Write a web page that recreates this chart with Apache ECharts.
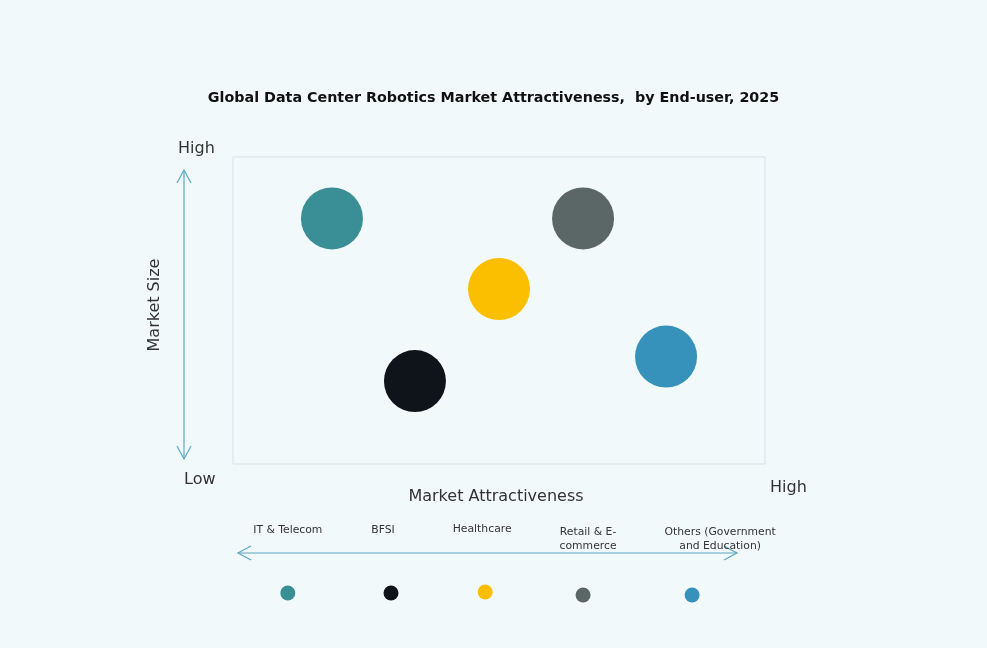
<!DOCTYPE html>
<html>
<head>
<meta charset="utf-8">
<script src="https://cdn.jsdelivr.net/npm/echarts@6/dist/echarts.min.js"></script>
<style>
html,body{margin:0;padding:0;background:#f2f9fa;}
#main{width:987px;height:648px;}
</style>
</head>
<body>
<div id="main"></div>
<script>
// ---- data ----
const categories = ['IT & Telecom', 'BFSI', 'Healthcare', 'Retail & E-\ncommerce', 'Others (Government\nand Education)'];
const attractiveness = [18.6, 34.2, 50.0, 65.8, 81.4];   // x (0-100)
const marketSize = [80, 27, 57, 80, 35];                  // y (0-100)
const colors = ['#3a8e95', '#0f141b', '#fbbf00', '#5b6767', '#3692ba'];
const legendX = [10.3, 29.7, 47.4, 65.8, 86.3];
const legendY = [0.5, 0.5, 0.55, 0.4, 0.4];
const legendLabelShift = [0, -8, -3, 5, 28];

const chart = echarts.init(document.getElementById('main'));
const FONT = 'DejaVu Sans';
const arrowColor = '#5aa8c2';

const bubbleData = categories.map((c, i) => ({
  name: c, value: [attractiveness[i], marketSize[i]],
  itemStyle: { color: colors[i] }
}));
const legendData = categories.map((c, i) => ({
  name: c, value: [legendX[i], legendY[i]],
  itemStyle: { color: colors[i] },
  label: { offset: [legendLabelShift[i], 0] }
}));

chart.setOption({
  backgroundColor: '#f2f9fa',
  animation: false,
  title: {
    text: 'Global Data Center Robotics Market Attractiveness,  by End-user, 2025',
    left: 'center', top: 86,
    textStyle: { fontFamily: FONT, fontSize: 14.3, fontWeight: 'bold', color: '#111' }
  },
  grid: [
    { left: 233, top: 157, width: 532, height: 307, show: true, borderColor: '#d3e3e6', borderWidth: 1, backgroundColor: 'transparent' },
    { left: 233, top: 583, width: 532, height: 20 }
  ],
  xAxis: [
    { gridIndex: 0, type: 'value', min: 0, max: 100, show: false },
    { gridIndex: 1, type: 'value', min: 0, max: 100, show: false }
  ],
  yAxis: [
    { gridIndex: 0, type: 'value', min: 0, max: 100, show: false },
    { gridIndex: 1, type: 'value', min: 0, max: 1, show: false }
  ],
  graphic: [
    // vertical arrow
    { type: 'polyline', shape: { points: [[184, 171], [184, 458]] }, style: { stroke: arrowColor, lineWidth: 1.2, fill: null } },
    { type: 'polyline', shape: { points: [[177, 183], [184, 170], [191, 183]] }, style: { stroke: arrowColor, lineWidth: 1.2, fill: null } },
    { type: 'polyline', shape: { points: [[177, 446], [184, 459], [191, 446]] }, style: { stroke: arrowColor, lineWidth: 1.2, fill: null } },
    // horizontal arrow
    { type: 'polyline', shape: { points: [[238, 553], [737, 553]] }, style: { stroke: arrowColor, lineWidth: 1.2, fill: null } },
    { type: 'polyline', shape: { points: [[251, 546], [238, 553], [251, 560]] }, style: { stroke: arrowColor, lineWidth: 1.2, fill: null } },
    { type: 'polyline', shape: { points: [[724, 546], [737, 553], [724, 560]] }, style: { stroke: arrowColor, lineWidth: 1.2, fill: null } },
    // axis texts
    { type: 'text', left: 178, top: 141, style: { text: 'High', font: '16px ' + FONT, fill: '#333' } },
    { type: 'text', left: 184, top: 472, style: { text: 'Low', font: '16px ' + FONT, fill: '#333' } },
    { type: 'text', left: 770, top: 480, style: { text: 'High', font: '16px ' + FONT, fill: '#333' } },
    { type: 'text', x: 496, y: 497, style: { text: 'Market Attractiveness', font: '16px ' + FONT, fill: '#333', align: 'center', verticalAlign: 'middle' } },
    { type: 'text', x: 155, y: 305, rotation: Math.PI / 2, style: { text: 'Market Size', font: '16px ' + FONT, fill: '#333', align: 'center', verticalAlign: 'middle' } }
  ],
  series: [
    {
      type: 'scatter', xAxisIndex: 0, yAxisIndex: 0,
      symbolSize: 62, data: bubbleData,
      itemStyle: { opacity: 1 }
    },
    {
      type: 'scatter', xAxisIndex: 1, yAxisIndex: 1,
      symbolSize: 15, data: legendData,
      itemStyle: { opacity: 1 },
      label: {
        show: true, position: ['50%', -62], align: 'center', verticalAlign: 'top',
        formatter: p => p.name,
        fontFamily: FONT, fontSize: 10.8, color: '#333', lineHeight: 14
      }
    }
  ]
});
</script>
</body>
</html>
